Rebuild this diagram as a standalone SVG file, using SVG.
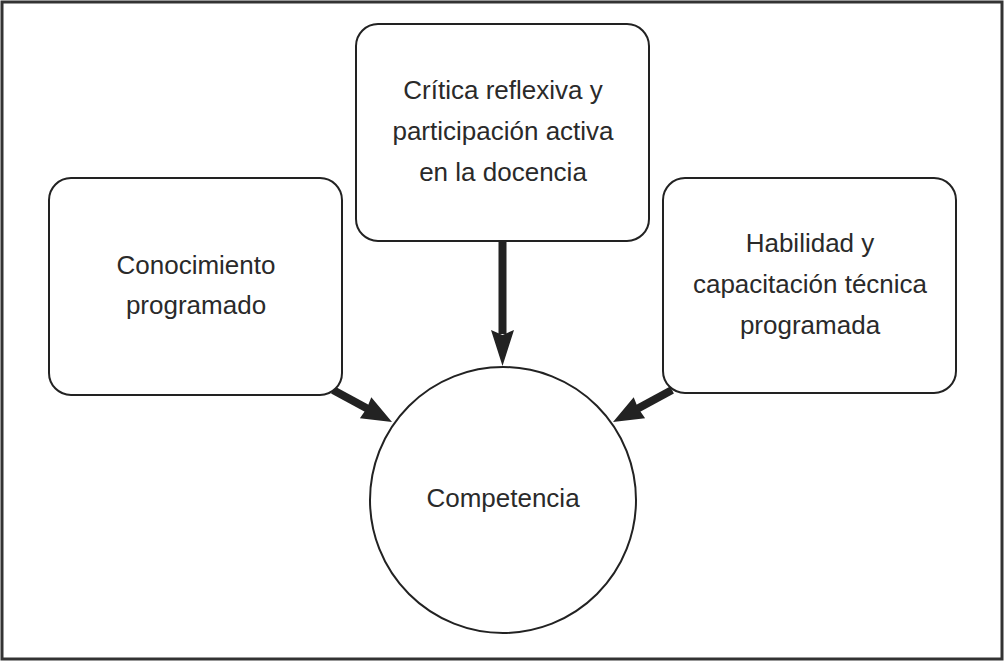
<svg xmlns="http://www.w3.org/2000/svg" width="1005" height="662" viewBox="0 0 1005 662">
<style>
.frame{fill:#fff;stroke:#333;stroke-width:3}
.box{fill:#fff;stroke:#222;stroke-width:2}
.t{font-family:"Liberation Sans",Arial,sans-serif;font-size:26px;fill:#2a2a2a;text-anchor:middle}
.arr{stroke:#222;stroke-width:8;fill:none}
.head{fill:#222}
</style>
<rect class="frame" x="2" y="2" width="1000" height="657"/>
<g id="connectors">
<line class="arr" x1="502.5" y1="241" x2="502.5" y2="334"/>
<polygon class="head" points="491,330 502.5,335 514,330 502.5,366"/>
<line class="arr" x1="333" y1="390" x2="369" y2="409.5"/>
<polygon class="head" points="359.9,418.2 367,408 371.3,397.2 392,422"/>
<line class="arr" x1="672" y1="390" x2="636" y2="409.5"/>
<polygon class="head" points="645.1,418.2 638,408 633.7,397.2 613,422"/>
</g>
<g id="node-critica">
<rect class="box" x="356" y="24" width="293" height="217" rx="22"/>
<text class="t" x="503" y="99">Crítica reflexiva y</text>
<text class="t" x="503" y="140">participación activa</text>
<text class="t" x="503" y="181">en la docencia</text>
</g>
<g id="node-conocimiento">
<rect class="box" x="49" y="178" width="293" height="217" rx="22"/>
<text class="t" x="196" y="274">Conocimiento</text>
<text class="t" x="196" y="314">programado</text>
</g>
<g id="node-habilidad">
<rect class="box" x="663" y="178" width="293" height="215" rx="22"/>
<text class="t" x="810" y="252">Habilidad y</text>
<text class="t" x="810" y="293">capacitación técnica</text>
<text class="t" x="810" y="334">programada</text>
</g>
<g id="node-competencia">
<circle class="box" cx="503" cy="500" r="133"/>
<text class="t" x="503" y="507">Competencia</text>
</g>
</svg>
